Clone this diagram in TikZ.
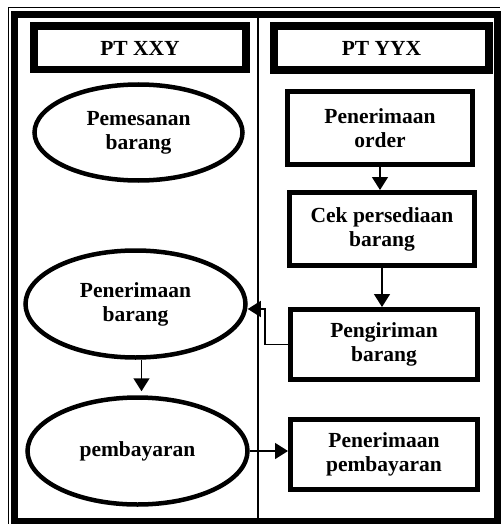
\documentclass[tikz,border=0pt]{standalone}
\usepackage{fontspec}
\setmainfont{Liberation Serif}
\usetikzlibrary{arrows.meta,shapes.geometric}
\begin{document}
\begin{tikzpicture}[x=1pt,y=-1pt,
    font=\bfseries\fontsize{21.5}{24}\selectfont,
    head/.style={draw,line width=7.5pt,minimum width=212pt,minimum height=43.5pt,inner sep=0pt},
    proc/.style={draw,line width=5pt,minimum width=185pt,minimum height=73pt,align=center,inner sep=0pt},
    act/.style={draw,ellipse,line width=4.5pt,inner sep=0pt,align=center},
    flow/.style={line width=1.5pt,-{Stealth[inset=0pt,length=13pt,width=16pt]}}]
    \useasboundingbox (0,0) rectangle (500,524);
    \draw[line width=7pt] (14.5,14.5) rectangle (497,521);
    \draw[line width=1pt] (8,524) -- (8,8) -- (500,8);
    \draw[line width=1.3pt] (258,18) -- (258,518);

    \node[head] (h1) at (140,48) {PT XXY};
    \node[head,minimum width=215pt,minimum height=44pt] (h2) at (381.5,48) {PT YYX};

    \node[act,minimum width=208pt,minimum height=96pt] (u1) at (138.5,132.5) {Pemesanan\\barang};
    \node[act,minimum width=220pt,minimum height=107pt] (u2) at (135.5,304) {Penerimaan\\barang};
    \node[act,minimum width=220pt,minimum height=107pt] (u3) at (137.5,451) {pembayaran};

    \node[proc] (w1) at (380,128) {Penerimaan\\order};
    \node[proc] (w2) at (382,229) {Cek persediaan\\barang};
    \node[proc,minimum width=187pt,minimum height=70pt] (w3) at (384,344.5) {Pengiriman\\barang};
    \node[proc,minimum width=187pt,minimum height=70pt] (w4) at (384,454.5) {Penerimaan\\pembayaran};

    \draw[flow] (w1.south) -- (w1.south |- w2.north);
    \draw[flow] (w2.south) -- (w2.south |- w3.north);
    \draw[flow] (w3.west) -- ++(-23,0) |- ([yshift=-5pt]u2.east);
    \draw[flow,shorten >=4pt] ([xshift=6pt]u2.south) -- ([xshift=6pt]u2.south |- u3.north);
    \draw[flow] (u3.east) -- (u3.east -| w4.west);
\end{tikzpicture}
\end{document}
